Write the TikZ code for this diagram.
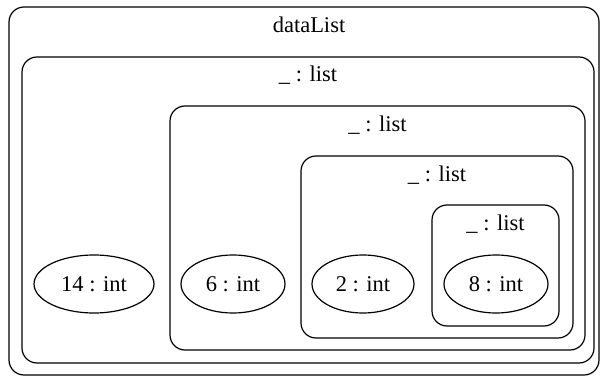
\documentclass[tikz,border=0pt]{standalone}
\usepackage{fontspec}
\setmainfont{Liberation Serif}
\usetikzlibrary{positioning, shapes}

\begin{document}
\begin{tikzpicture}[x=1pt, y=-1pt, line width=1.2pt,
    cluster/.style={draw, rounded corners=15pt, inner sep=0pt},
    value/.style={draw, ellipse, minimum height=58pt, inner sep=0pt},
    title/.style={anchor=base, font=\fontsize{22.5}{27}\selectfont}]
    \useasboundingbox (0,0) rectangle (602,377);
    % Nested boxes
    \node[cluster, minimum width=590pt, minimum height=368pt] (outer) at (304,191) {};
    \node[cluster, minimum width=572pt, minimum height=306pt] (list1) at (308,210) {};
    \node[cluster, minimum width=415pt, minimum height=244pt] (list2) at (377.5,228) {};
    \node[cluster, minimum width=272pt, minimum height=182pt] (list3) at (437,247) {};
    \node[cluster, minimum width=127pt, minimum height=121pt] (list4) at (495.5,265.5) {};

    % Titles
    \node[title] (outertitle) at ([xshift=5pt, yshift=-26pt]outer.north) {dataList};
    \node[title] (list1title) at ([yshift=-25pt]list1.north) {\_ : list};
    \node[title] (list2title) at ([yshift=-26pt]list2.north) {\_ : list};
    \node[title] (list3title) at ([yshift=-26pt]list3.north) {\_ : list};
    \node[title] (list4title) at ([yshift=-26pt]list4.north) {\_ : list};

    % Values
    \node[value, title, anchor=center, minimum width=120pt] (v14) at (94,284) {14 : int};
    \node[value, title, anchor=center, minimum width=104pt] (v6) at (233,284) {6 : int};
    \node[value, title, anchor=center, minimum width=102pt] (v2) at (363,284) {2 : int};
    \node[value, title, anchor=center, minimum width=104pt] (v8) at (496,284) {8 : int};
\end{tikzpicture}
\end{document}
